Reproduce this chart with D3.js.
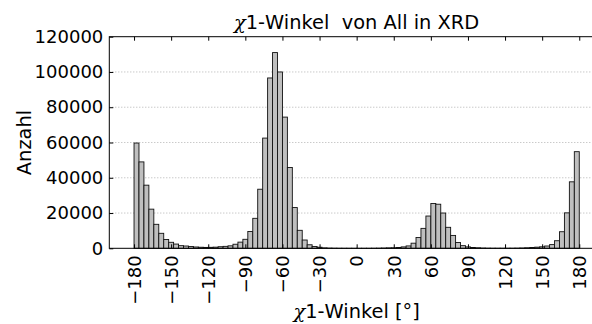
<!DOCTYPE html>
<html>
<head>
<meta charset="utf-8">
<script src="https://cdn.jsdelivr.net/npm/d3@7"></script>
<style>
  body { margin: 0; background: #fff; }
  svg { display: block; font-family: "DejaVu Sans", sans-serif; }
</style>
</head>
<body>
<div id="chart"></div>
<script>
// histogram of chi1 angles, 4 degree bins from -180 to 180
const binWidth = 4
const binStart = d3.range(-180, 180, binWidth)
const counts = [
  59700, 49000, 35800, 22200, 13600, 8500, 5000, 3400, 2400, 1500,
  1300, 1000, 750, 600, 500, 550, 650, 900, 1100, 1400,
  2300, 3500, 5100, 9500, 17000, 33500, 62500, 96600, 111000, 100000,
  74400, 45800, 23100, 10200, 4700, 2000, 1000, 600, 250, 120,
  60, 30, 20, 15, 10, 10, 15, 20, 40, 80,
  150, 250, 300, 450, 800, 1350, 2900, 6150, 11300, 18300,
  25400, 25000, 20000, 11900, 7300, 3300, 1500, 800, 450, 300,
  150, 80, 50, 40, 40, 50, 60, 100, 180, 300,
  450, 650, 850, 1300, 2100, 4300, 9400, 20100, 37700, 54800
]
const xTicks = [-180, -150, -120, -90, -60, -30, 0, 30, 60, 90, 120, 150, 180]
const yTicks = [0, 20000, 40000, 60000, 80000, 100000, 120000]

const title = '1-Winkel  von All in XRD'
const xTitle = '1-Winkel [°]'
const yTitle = 'Anzahl'

const width = 592
const height = 324
// plot box (right edge lies outside the picture, as in the original)
const box = { left: 109.3, top: 36.7, bottom: 248.3, right: 604 }

const svg = d3.select('#chart')
  .append('svg')
  .attr('width', width)
  .attr('height', height)

const xScale = d3.scaleLinear().domain([-200, 200]).range([box.left, box.right])
const yScale = d3.scaleLinear().domain([0, 120000]).range([box.bottom, box.top])

// grid
svg.append('g')
  .selectAll('line')
  .data(yTicks.slice(1, -1))
  .enter()
  .append('line')
  .attr('x1', box.left).attr('x2', box.right)
  .attr('y1', d => yScale(d)).attr('y2', d => yScale(d))
  .attr('stroke', '#a0a0a0')
  .attr('stroke-width', 0.8)
  .attr('stroke-dasharray', '1,2')

// bars
svg.append('g')
  .selectAll('rect')
  .data(counts)
  .enter()
  .append('rect')
  .attr('x', (d, i) => xScale(binStart[i]))
  .attr('width', (d, i) => xScale(binStart[i] + binWidth) - xScale(binStart[i]))
  .attr('y', d => yScale(d))
  .attr('height', d => yScale(0) - yScale(d))
  .attr('fill', '#bfbfbf')
  .attr('stroke', '#111')
  .attr('stroke-width', 0.9)

// axes, ticks inside
const xAxis = d3.axisBottom(xScale).tickValues(xTicks).tickSize(-4).tickFormat(d3.format(''))
const gx = svg.append('g')
  .attr('transform', `translate(0, ${box.bottom})`)
  .call(xAxis)
gx.select('.domain').remove()
gx.selectAll('text')
  .attr('transform', 'rotate(-90)')
  .attr('text-anchor', 'end')
  .attr('x', -7)
  .attr('y', 0)
  .attr('dy', '0.35em')

const gTop = svg.append('g')
  .attr('transform', `translate(0, ${box.top})`)
  .call(d3.axisTop(xScale).tickValues(xTicks).tickSize(-4).tickFormat(''))
gTop.select('.domain').remove()

const gy = svg.append('g')
  .attr('transform', `translate(${box.left}, 0)`)
  .call(d3.axisLeft(yScale).tickValues(yTicks).tickSize(-4).tickPadding(6).tickFormat(d3.format('')))
gy.select('.domain').remove()

svg.selectAll('.tick line').attr('stroke', '#000')
svg.selectAll('.tick text')
  .attr('fill', '#000')
  .style('font-size', '18px')
  .style('font-family', '"DejaVu Sans", sans-serif')

// frame
svg.append('rect')
  .attr('x', box.left).attr('y', box.top)
  .attr('width', box.right - box.left).attr('height', box.bottom - box.top)
  .attr('fill', 'none')
  .attr('stroke', '#000')
  .attr('stroke-width', 1)

// titles
const addChiText = (sel, rest) => {
  sel.append('tspan')
    .style('font-family', '"DejaVu Serif", serif')
    .style('font-style', 'italic')
    .text('χ')
  sel.append('tspan').text(rest)
}

const titleText = svg.append('text')
  .attr('x', (box.left + box.right) / 2)
  .attr('y', 29)
  .attr('text-anchor', 'middle')
  .style('font-size', '19.4px')
  .style('white-space', 'pre')
addChiText(titleText, title)

const xLabel = svg.append('text')
  .attr('x', (box.left + box.right) / 2)
  .attr('y', 318)
  .attr('text-anchor', 'middle')
  .style('font-size', '19.4px')
addChiText(xLabel, xTitle)

svg.append('text')
  .attr('transform', `translate(31, ${(box.top + box.bottom) / 2}) rotate(-90)`)
  .attr('text-anchor', 'middle')
  .style('font-size', '19.4px')
  .text(yTitle)
</script>
</body>
</html>
